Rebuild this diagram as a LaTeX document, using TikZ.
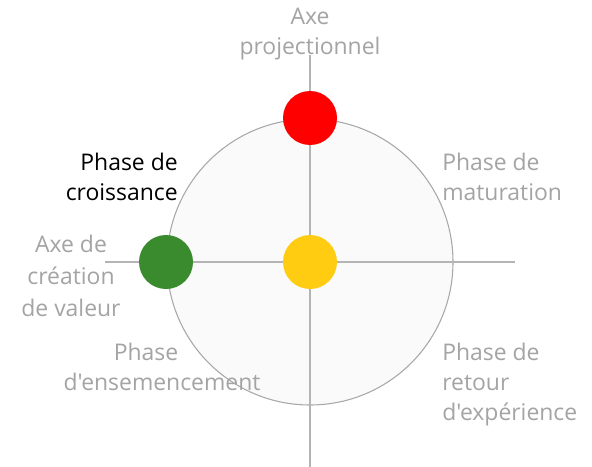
\documentclass[tikz,border=0pt]{standalone}
\usepackage{fontspec}
\setmainfont{Open Sans}[Ligatures=TeXOff]
\definecolor{txtgray}{HTML}{A4A4A4}
\definecolor{linegray}{HTML}{B4B4B4}
\definecolor{ringgray}{HTML}{A8A8A8}
\definecolor{ringfill}{HTML}{FAFAFA}
\definecolor{dotred}{HTML}{FF0000}
\definecolor{dotgreen}{HTML}{3A8A2E}
\definecolor{dotyellow}{HTML}{FFCC11}
\begin{document}
\begin{tikzpicture}[x=0.75pt,y=-0.75pt,
  lbl/.style={text=txtgray,font=\fontsize{17.2}{22.6}\selectfont,inner sep=0pt},
  axis/.style={draw=linegray,line width=0.8pt},
  dot/.style={circle,minimum size=40.5pt,inner sep=0pt}]
\useasboundingbox[fill=white] (0,0) rectangle (592,467);
\node[circle,draw=ringgray,fill=ringfill,line width=0.8pt,minimum size=214.5pt,inner sep=0pt] (ring) at (310,262) {};
\coordinate (vtop) at (310,55);
\coordinate (vbot) at (310,467);
\coordinate (hl) at (105,262);
\coordinate (hr) at (515,262);
\draw[axis] (vbot) -- (vtop);
\draw[axis] (hl) -- (hr);
\node[dot,fill=dotred] (red) at (310,118) {};
\node[dot,fill=dotgreen] (green) at (166,262) {};
\node[dot,fill=dotyellow] (yellow) at (310,262) {};
\node[lbl,align=center,anchor=north] (axp) at (310,8) {Axe\\projectionnel};
\node[lbl,align=right,anchor=north east,text=black] (cro) at (178,153) {Phase de\\croissance};
\node[lbl,align=left,anchor=north west] (mat) at (442,153) {Phase de\\maturation};
\node[lbl,align=center,anchor=north,font=\fontsize{17.2}{24}\selectfont] (axc) at (71,235) {Axe de\\création\\de valeur};
\node[lbl,align=left,anchor=north west] (ret) at (442,343) {Phase de\\retour\\d'expérience};
\node[lbl,anchor=north] (ens1) at (146,343) {Phase};
\node[lbl,anchor=north] (ens2) at (162,373) {d'ensemencement};
\end{tikzpicture}
\end{document}
